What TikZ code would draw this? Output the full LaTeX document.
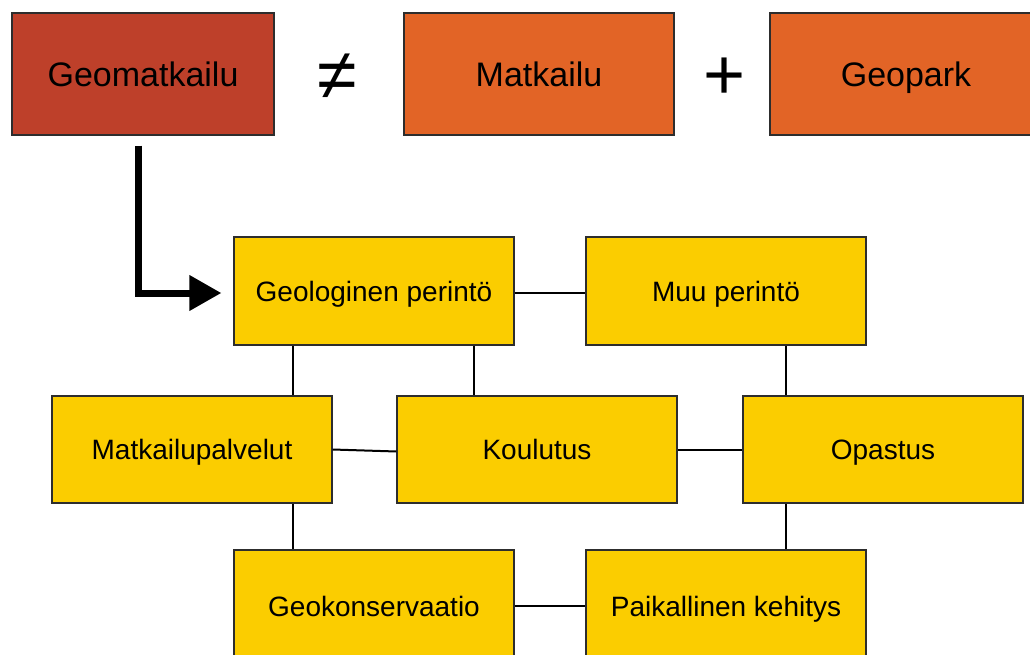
\documentclass[tikz,border=0pt]{standalone}
\usepackage{fontspec}
\setmainfont{Liberation Sans}
\usetikzlibrary{arrows.meta}
\definecolor{geored}{RGB}{190,64,42}
\definecolor{geoorange}{RGB}{226,100,38}
\definecolor{geoyellow}{RGB}{251,205,0}
\definecolor{edgegray}{RGB}{45,45,45}
\begin{document}
\begin{tikzpicture}[x=1pt,y=-1pt,
  topbox/.style={draw=edgegray,line width=1.2pt,minimum width=262pt,minimum height=122pt,
    inner sep=0pt,text height=31.3pt,text depth=6.8pt,font=\fontsize{34}{40}\selectfont},
  cellbox/.style={draw=edgegray,line width=1.2pt,fill=geoyellow,minimum width=280pt,
    minimum height=108pt,inner sep=0pt,text height=25.8pt,text depth=5.6pt,
    font=\fontsize{28}{33}\selectfont},
  opsign/.style={inner sep=0pt,text height=50pt,text depth=0pt,font=\fontsize{72}{80}\selectfont},
  link/.style={line width=2pt,black},
  mainarrow/.style={line width=7pt,black,-{Triangle[length=32pt,width=34pt]}}]
\useasboundingbox (0,0) rectangle (1030,655);
\clip (0,0) rectangle (1030,655);

% top row: the equation
\node[topbox,fill=geored] (gm) at (143,74) {Geomatkailu};
\node[opsign] (neq) at (337,75) {≠};
\node[topbox,fill=geoorange,minimum width=270pt] (mk) at (539,74) {Matkailu};
\node[opsign] (plus) at (725,75) {+};
\node[topbox,fill=geoorange,minimum width=272pt] (gp) at (906,74) {Geopark};

% network of themes
\node[cellbox] (gper) at (374,291) {Geologinen perintö};
\node[cellbox] (muu) at (726,291) {Muu perintö};
\node[cellbox,minimum height=107pt] (mp) at (192,449.5) {Matkailupalvelut};
\node[cellbox,minimum height=107pt] (kou) at (537,449.5) {Koulutus};
\node[cellbox,minimum height=107pt] (opa) at (883,449.5) {Opastus};
\node[cellbox,minimum height=112pt] (gk) at (374,606) {Geokonservaatio};
\node[cellbox,minimum height=112pt] (pk) at (726,606) {Paikallinen kehitys};

% arrow from Geomatkailu into the network
\coordinate (astart) at ([xshift=-5pt,yshift=-10pt]gm.south);
\coordinate (aend) at ([xshift=-12pt,yshift=-2pt]gper.west);
\draw[mainarrow] (astart) |- (aend);

% connectors
\draw[link] ([yshift=-2pt]gper.east) -- ([yshift=-2pt]muu.west);
\draw[link] ([xshift=-81pt]gper.south) -- ([xshift=-81pt]gper.south |- mp.north);
\draw[link] ([xshift=100pt]gper.south) -- ([xshift=100pt]gper.south |- kou.north);
\draw[link] ([xshift=60pt]muu.south) -- ([xshift=60pt]muu.south |- opa.north);
\draw[link] (mp.east) -- ([yshift=-2pt]kou.west);
\draw[link] (kou) -- (opa);
\draw[link] ([xshift=101pt]mp.south) -- ([xshift=101pt]mp.south |- gk.north);
\draw[link] ([xshift=-97pt]opa.south) -- ([xshift=-97pt]opa.south |- pk.north);
\draw[link,line width=2.8pt] (gk) -- (pk);
\end{tikzpicture}
\end{document}
